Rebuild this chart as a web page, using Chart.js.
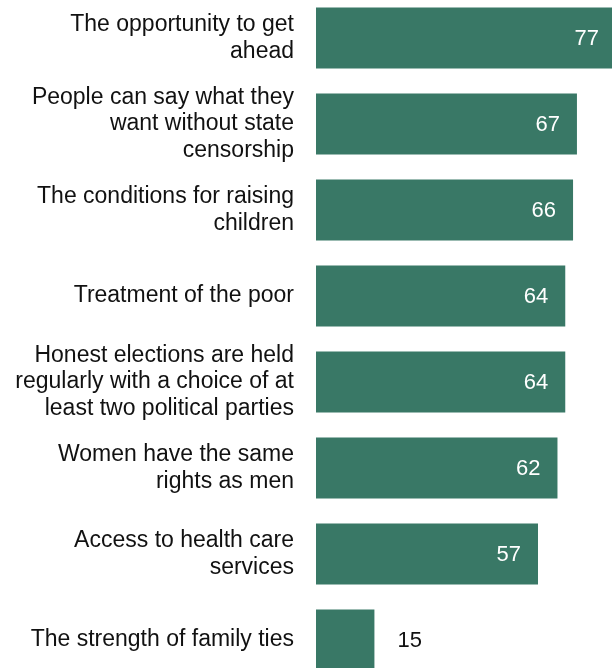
<!DOCTYPE html>
<html>
<head>
<meta charset="utf-8">
<script src="https://cdn.jsdelivr.net/npm/chart.js@4"></script>
<style>
    html, body { margin: 0; padding: 0; background: #fff; }
    body { width: 612px; height: 668px; overflow: hidden; position: relative; }
    .wrap { position: absolute; left: 0; top: -5px; width: 612px; height: 688px; }
</style>
</head>
<body>
<div class="wrap"><canvas id="barChart"></canvas></div>
<script>
const categories = [
    ['The opportunity to get', 'ahead'],
    ['People can say what they', 'want without state', 'censorship'],
    ['The conditions for raising', 'children'],
    'Treatment of the poor',
    ['Honest elections are held', 'regularly with a choice of at', 'least two political parties'],
    ['Women have the same', 'rights as men'],
    ['Access to health care', 'services'],
    'The strength of family ties'
];
const values = [77, 67, 66, 64, 64, 62, 57, 15];

const barColor = '#397866';
const fontFamily = '"Liberation Sans", Arial, sans-serif';

// writes the number at the end of each bar (outside if the bar is too short)
const valueLabels = {
    id: 'valueLabels',
    afterDatasetsDraw(chart) {
        const ctx = chart.ctx;
        const xScale = chart.scales.x;
        const meta = chart.getDatasetMeta(0);
        ctx.save();
        ctx.font = '22px ' + fontFamily;
        ctx.textBaseline = 'middle';
        meta.data.forEach((bar, i) => {
            const v = values[i];
            const end = xScale.getPixelForValue(v);
            const start = xScale.getPixelForValue(0);
            if (end - start > 60) {
                ctx.fillStyle = '#ffffff';
                ctx.textAlign = 'right';
                ctx.fillText(v, end - 17, bar.y + 1);
            } else {
                ctx.fillStyle = '#111111';
                ctx.textAlign = 'left';
                ctx.fillText(v, end + 23, bar.y + 1);
            }
        });
        ctx.restore();
    }
};

const ctx = document.getElementById('barChart').getContext('2d');
const myChart = new Chart(ctx, {
    type: 'bar',
    data: {
        labels: categories,
        datasets: [{
            data: values,
            backgroundColor: barColor,
            borderWidth: 0,
            barPercentage: 0.71,
            categoryPercentage: 1
        }]
    },
    options: {
        indexAxis: 'y',
        responsive: true,
        maintainAspectRatio: false,
        animation: false,
        layout: { padding: 0 },
        plugins: {
            legend: { display: false },
            tooltip: { enabled: false }
        },
        scales: {
            x: {
                display: false,
                min: 0,
                max: 76
            },
            y: {
                grid: { display: false },
                border: { display: false },
                afterFit(scale) {
                    scale.width = 316;
                    // let the first and last labels run past the plot edges
                    scale.paddingTop = 0;
                    scale.paddingBottom = 0;
                },
                ticks: {
                    color: '#111111',
                    padding: 14,
                    font: { family: fontFamily, size: 23, lineHeight: 1.16 }
                }
            }
        }
    },
    plugins: [valueLabels]
});
</script>
</body>
</html>
